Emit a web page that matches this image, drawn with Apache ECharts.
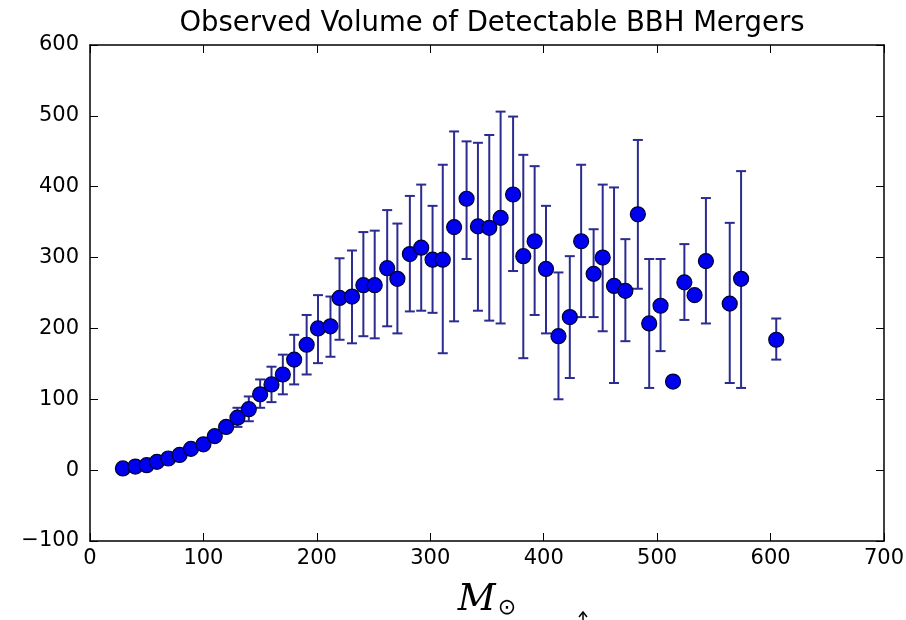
<!DOCTYPE html>
<html>
<head>
<meta charset="utf-8">
<script src="https://cdn.jsdelivr.net/npm/echarts@6/dist/echarts.min.js"></script>
<style>
html,body{margin:0;padding:0;background:#fff;}
#chart{width:906px;height:620px;}
</style>
</head>
<body>
<div id="chart"></div>
<script>
// Solar-mass bin centres
const masses = [29, 40, 50, 59, 69, 79, 89, 100, 110, 120,
  130, 140, 150, 160, 170, 180, 191, 201, 212, 220,
  231, 241, 251, 262, 271, 282, 292, 302, 311, 321,
  332, 342, 352, 362, 373, 382, 392, 402, 413, 423,
  433, 444, 452, 462, 472, 483, 493, 503, 514, 524,
  533, 543, 564, 574, 605];
// Observed volume (point values)
const volumes = [2.4, 5, 7, 11.7, 16.4, 21.5, 30, 36.5, 48, 61,
  74, 86, 107, 121, 135, 156, 177, 200, 203, 243,
  245, 261, 261, 285, 270, 305, 314, 297, 297, 343,
  383, 344, 342, 356, 389, 302, 323, 284, 189, 216,
  323, 277, 300, 260, 253, 361, 207, 232, 125, 265,
  247, 295, 235, 270, 184];
// Error bar lower / upper ends (null = no bar)
const errLow = [null, null, null, null, null, null, null, null, null, null,
  61, 69, 88, 96, 107, 121, 135, 151, 160, 184,
  179, 189, 186, 203, 193, 224, 225, 222, 165, 210,
  298, 225, 211, 207, 281, 158, 219, 193, 100, 130,
  216, 216, 196, 123, 182, 256, 116, 168, null, 212,
  null, 207, 123, 116, 156];
const errHigh = [null, null, null, null, null, null, null, null, null, null,
  88, 104, 128, 146, 163, 191, 219, 247, 245, 299,
  310, 336, 338, 367, 348, 387, 403, 373, 431, 478,
  464, 462, 473, 506, 499, 445, 429, 373, 279, 302,
  431, 340, 403, 399, 326, 466, 298, 298, null, 319,
  null, 384, 349, 422, 214];
const xTicks = [0, 100, 200, 300, 400, 500, 600, 700];
const yTicks = [-100, 0, 100, 200, 300, 400, 500, 600];

const points = masses.map((m, i) => [m, volumes[i]]);
const bars = [];
masses.forEach((m, i) => { if (errLow[i] !== null) bars.push([m, errLow[i], errHigh[i]]); });

const tickFont = { fontFamily: 'DejaVu Sans', fontSize: 21, color: '#000' };
const chart = echarts.init(document.getElementById('chart'), null, { renderer: 'canvas' });
const axisCommon = {
  axisLine: { show: true, onZero: false, lineStyle: { color: '#000', width: 1.5 } },
  axisTick: { show: true, inside: true, length: 8, lineStyle: { color: '#000', width: 1 } },
  splitLine: { show: false }
};
chart.setOption({
  animation: false,
  backgroundColor: '#fff',
  title: {
    text: 'Observed Volume of Detectable BBH Mergers',
    left: 487, top: 5, textAlign: 'center',
    textStyle: { fontFamily: 'DejaVu Sans', fontSize: 27.5, fontWeight: 'normal', color: '#000' }
  },
  grid: { left: 90, right: 22, top: 45, bottom: 79, containLabel: false, outerBoundsMode: 'none' },
  xAxis: [
    Object.assign({}, axisCommon, {
      type: 'value', min: xTicks[0], max: xTicks[xTicks.length - 1], interval: 100, position: 'bottom',
      axisLabel: Object.assign({ margin: 7 }, tickFont),
      name: '{m|M}{s|⊙}', nameLocation: 'middle', nameGap: 40,
      nameTextStyle: {
        rich: {
          m: { fontFamily: 'DejaVu Serif', fontStyle: 'italic', fontSize: 37, color: '#000' },
          s: { fontFamily: 'DejaVu Sans', fontSize: 22, color: '#000', padding: [16, 0, 0, 2] }
        }
      }
    }),
    Object.assign({}, axisCommon, {
      type: 'value', min: xTicks[0], max: xTicks[xTicks.length - 1], interval: 100, position: 'top',
      axisLabel: { show: false }
    })
  ],
  yAxis: [
    Object.assign({}, axisCommon, {
      type: 'value', min: yTicks[0], max: yTicks[yTicks.length - 1], interval: 100, position: 'left',
      axisLabel: Object.assign({ margin: 11, formatter: v => (v < 0 ? '\u2212' + Math.abs(v) : String(v)) }, tickFont)
    }),
    Object.assign({}, axisCommon, {
      type: 'value', min: yTicks[0], max: yTicks[yTicks.length - 1], interval: 100, position: 'right',
      axisLabel: { show: false }
    })
  ],
  graphic: [
    { type: 'polyline', shape: { points: [[579, 617], [583, 612], [587, 617]] }, style: { stroke: '#000', lineWidth: 1.5, fill: null } },
    { type: 'line', shape: { x1: 583, y1: 613, x2: 583, y2: 620 }, style: { stroke: '#000', lineWidth: 1.5 } }
  ],
  series: [
    {
      type: 'custom',
      xAxisIndex: 0, yAxisIndex: 0,
      data: bars,
      z: 2,
      renderItem: function (params, api) {
        const x = api.value(0);
        const top = api.coord([x, api.value(2)]);
        const bot = api.coord([x, api.value(1)]);
        const hw = 5;
        const st = { stroke: '#2b2b90', lineWidth: 2 };
        return {
          type: 'group',
          children: [
            { type: 'line', shape: { x1: top[0], y1: top[1], x2: bot[0], y2: bot[1] }, style: st },
            { type: 'line', shape: { x1: top[0] - hw, y1: top[1], x2: top[0] + hw, y2: top[1] }, style: st },
            { type: 'line', shape: { x1: bot[0] - hw, y1: bot[1], x2: bot[0] + hw, y2: bot[1] }, style: st }
          ]
        };
      }
    },
    {
      type: 'scatter',
      xAxisIndex: 0, yAxisIndex: 0,
      data: points,
      symbol: 'circle',
      symbolSize: 15,
      z: 3,
      itemStyle: { color: '#0000f0', borderColor: '#000030', borderWidth: 1.2, opacity: 1 }
    }
  ]
});
</script>
</body>
</html>
